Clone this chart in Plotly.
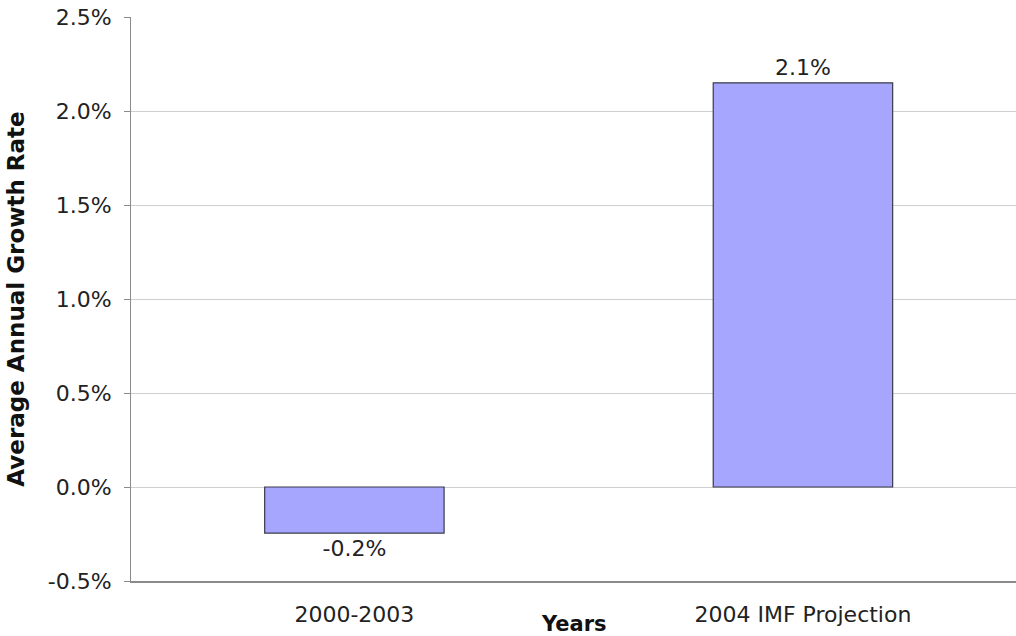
import plotly.graph_objects as go

# Average annual growth rate by period
categories = ["2000-2003", "2004 IMF Projection"]
growth_rates = [-0.00245, 0.0215]
tick_values = [-0.005, 0.0, 0.005, 0.01, 0.015, 0.02, 0.025]
tick_labels = [f"{v * 100:.1f}%" for v in tick_values]

FONT = "DejaVu Sans, Verdana, sans-serif"
TEXT_SIZE = 22

fig = go.Figure(
    go.Bar(
        x=categories,
        y=growth_rates,
        marker=dict(color="#a6a6fe", line=dict(color="#3a3a4a", width=1.2)),
        text=[f"{v * 100:.1f}%" for v in growth_rates],
        textposition="outside",
        textfont=dict(family=FONT, size=TEXT_SIZE, color="#222222"),
        cliponaxis=False,
    )
)

fig.update_layout(
    width=1016,
    height=636,
    margin=dict(l=131, r=0, t=17, b=55),
    paper_bgcolor="white",
    plot_bgcolor="white",
    bargap=0.6,
    showlegend=False,
    font=dict(family=FONT, size=TEXT_SIZE, color="#222222"),
    annotations=[
        dict(
            text="<b>Years</b>",
            xref="paper",
            yref="paper",
            x=0.5,
            y=0,
            xanchor="center",
            yanchor="middle",
            yshift=-43,
            xshift=0,
            showarrow=False,
            font=dict(family=FONT, size=21, color="#111111"),
        )
    ],
)

fig.update_yaxes(
    range=[-0.005, 0.025],
    tickvals=tick_values,
    ticktext=tick_labels,
    showgrid=True,
    gridcolor="#cfcfcf",
    gridwidth=1,
    zeroline=True,
    zerolinecolor="#cfcfcf",
    zerolinewidth=1,
    showline=True,
    linecolor="#8a8a8a",
    linewidth=1,
    ticks="outside",
    ticklen=6,
    tickcolor="#8a8a8a",
    ticklabelstandoff=8,
    tickfont=dict(family=FONT, size=TEXT_SIZE, color="#222222"),
    title=dict(
        text="<b>Average Annual Growth Rate</b>",
        font=dict(family=FONT, size=23, color="#111111"),
        standoff=16,
    ),
)

fig.update_xaxes(
    range=[-0.498, 1.475],
    showline=True,
    linecolor="#8a8a8a",
    linewidth=1.5,
    ticks="",
    ticklabelstandoff=13,
    tickfont=dict(family=FONT, size=TEXT_SIZE, color="#222222"),
)

fig.write_html("out.html")
